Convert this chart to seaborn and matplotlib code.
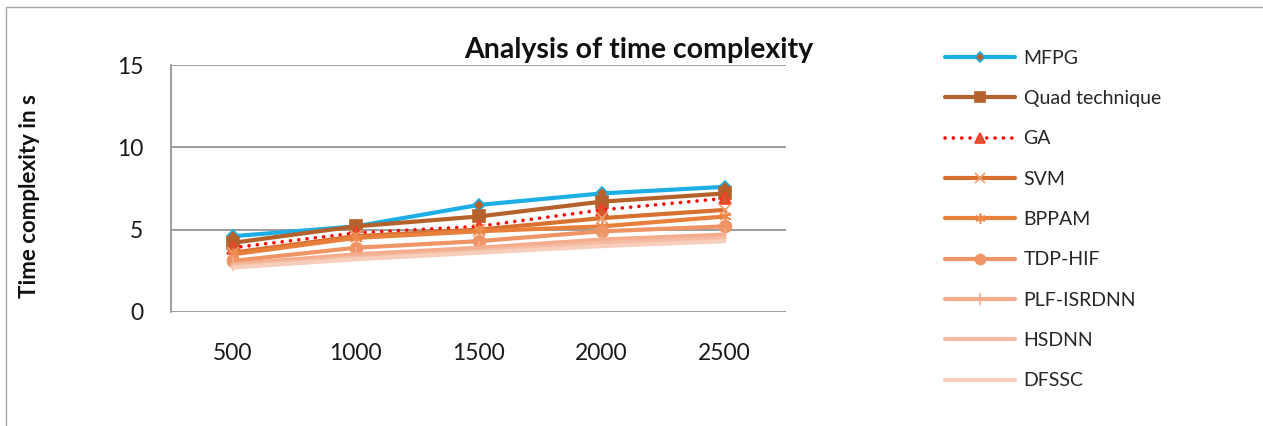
import matplotlib
matplotlib.use("Agg")
import matplotlib.pyplot as plt
from matplotlib.patches import Rectangle
import seaborn as sns
import pandas as pd

# Data sizes on the category axis
sizes = ["500", "1000", "1500", "2000", "2500"]

# Time complexity (s) per method
mfpg = [4.6, 5.2, 6.5, 7.2, 7.6]
quad = [4.2, 5.2, 5.8, 6.7, 7.2]
ga = [3.9, 4.8, 5.2, 6.2, 6.9]
svm = [3.6, 4.6, 5.0, 5.7, 6.2]
bppam = [3.5, 4.5, 4.9, 5.2, 5.8]
tdp_hif = [3.1, 3.9, 4.3, 4.9, 5.2]
plf_isrdnn = [2.9, 3.5, 3.9, 4.4, 4.7]
hsdnn = [2.8, 3.3, 3.7, 4.2, 4.5]
dfssc = [2.7, 3.2, 3.6, 4.0, 4.3]

methods = ["MFPG", "Quad technique", "GA", "SVM", "BPPAM", "TDP-HIF",
           "PLF-ISRDNN", "HSDNN", "DFSSC"]
values = [mfpg, quad, ga, svm, bppam, tdp_hif, plf_isrdnn, hsdnn, dfssc]

df = pd.DataFrame(
    [(m, s, v) for m, vals in zip(methods, values) for s, v in zip(sizes, vals)],
    columns=["method", "size", "time"],
)

# Per-series look: line colour, line style, line width, marker, marker face/edge, marker size
styles = {
    "MFPG": dict(color="#1CAEE4", ls="-", lw=3.0, marker="D", mfc="#B9602C", mec="#1CAEE4", ms=6),
    "Quad technique": dict(color="#B5612B", ls="-", lw=3.0, marker="s", mfc="#B5612B", mec="#B5612B", ms=8.5),
    "GA": dict(color="#FF0000", ls=(0, (0.01, 2.3)), lw=2.6, marker="^", mfc="#D05A28", mec="#FF3A2A", ms=8.5),
    "SVM": dict(color="#D8712F", ls="-", lw=3.0, marker="x", mfc="#F0A070", mec="#F0A070", ms=8.5),
    "BPPAM": dict(color="#E8803C", ls="-", lw=3.0, marker=(6, 2, 0), mfc="#EE8A4A", mec="#EE8A4A", ms=8.5),
    "TDP-HIF": dict(color="#EE9465", ls="-", lw=3.0, marker="o", mfc="#EE9465", mec="#EE9465", ms=8.5),
    "PLF-ISRDNN": dict(color="#F4AC8C", ls="-", lw=3.0, marker="|", mfc="#F4AC8C", mec="#F4AC8C", ms=10),
    "HSDNN": dict(color="#F5BBA2", ls="-", lw=3.0, marker="", mfc="#F5BBA2", mec="#F5BBA2", ms=0),
    "DFSSC": dict(color="#F7CDBB", ls="-", lw=3.0, marker="", mfc="#F7CDBB", mec="#F7CDBB", ms=0),
}

sns.set_theme(style="white")
plt.rcParams["font.family"] = ["Lato", "DejaVu Sans"]

fig = plt.figure(figsize=(12.63, 4.26), dpi=100)
ax = fig.add_axes([171 / 1263, 1 - 312 / 426, (786 - 171) / 1263, (312 - 65) / 426])

for i, m in enumerate(methods):
    st = styles[m]
    sns.lineplot(
        data=df[df["method"] == m], x="size", y="time", ax=ax, sort=False,
        color=st["color"], linestyle=st["ls"], linewidth=st["lw"],
        marker=st["marker"] if st["marker"] else None,
        markersize=st["ms"], markerfacecolor=st["mfc"], markeredgecolor=st["mec"],
        markeredgewidth=1.2, label=m, zorder=3 + i,
        dash_capstyle="round",
    )

ax.set_xlim(-0.5, 4.5)
ax.set_ylim(0, 15)
ax.set_yticks([0, 5, 10, 15])
ax.yaxis.grid(True, color="#8C8C8C", linewidth=1.2)
ax.xaxis.grid(False)
for side in ["top", "right", "bottom"]:
    ax.spines[side].set_visible(False)
ax.spines["left"].set_color("#8C8C8C")
ax.spines["left"].set_linewidth(1.2)
ax.tick_params(axis="both", length=0, labelsize=16.5, labelcolor="#1A1A1A")
ax.tick_params(axis="x", pad=22)
ax.tick_params(axis="y", pad=20)
ax.set_xlabel("")
ax.set_ylabel("")

fig.text(639 / 1263, 1 - 50 / 426, "Analysis of time complexity", ha="center", va="center",
         fontsize=20.5, fontweight="bold", color="#111111")
fig.text(30 / 1263, 1 - 196 / 426, "Time complexity in s", ha="center", va="center",
         rotation=90, fontsize=16, fontweight="bold", color="#111111")

handles, labels = ax.get_legend_handles_labels()
if ax.legend_:
    ax.legend_.remove()
fig.legend(handles, labels, loc="upper left", bbox_to_anchor=(937 / 1263, 1 - 42 / 426),
           frameon=False, fontsize=14, handlelength=3.6, handletextpad=0.45,
           labelspacing=1.2, borderaxespad=0, markerscale=0.85)

# Thin outer border of the chart
fig.patches.append(Rectangle((6 / 1263, -0.05), 1.2, (426 - 7) / 426 + 0.05,
                             transform=fig.transFigure, fill=False,
                             edgecolor="#A6A6A6", linewidth=1.0))

fig.savefig("out.png", dpi=100)
